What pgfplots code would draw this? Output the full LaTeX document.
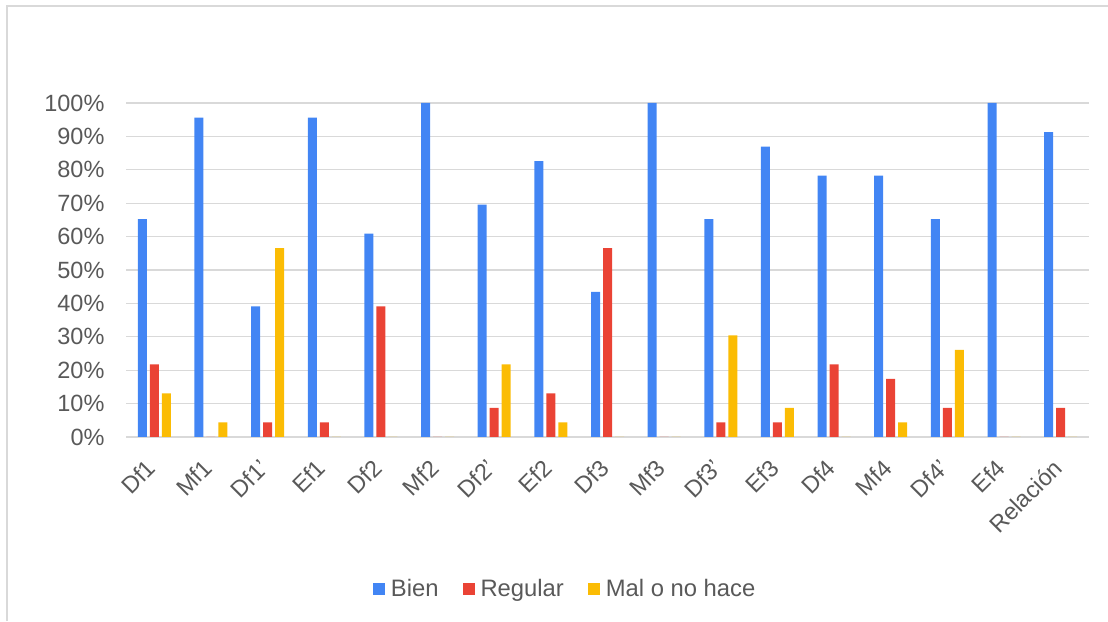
\documentclass[border=0pt]{standalone}
\usepackage{fontspec}
\setmainfont{Liberation Sans}
\usepackage{pgfplots}
\pgfplotsset{compat=1.18}
\usepackage{pgfplotstable}

\definecolor{cblue}{HTML}{4285F4}
\definecolor{cred}{HTML}{EA4335}
\definecolor{cyellow}{HTML}{FBBC04}
\definecolor{ctext}{HTML}{595959}
\definecolor{cgrid}{HTML}{D9D9D9}

% Shares (in %) per item: good, fair, poor / not done
\pgfplotstableread{
x  bien   regular  mal
0  65.22  21.74    13.04
1  95.65   0.00     4.35
2  39.13   4.35    56.52
3  95.65   4.35     0.00
4  60.87  39.13     0.00
5 100.00   0.00     0.00
6  69.57   8.70    21.74
7  82.61  13.04     4.35
8  43.48  56.52     0.00
9 100.00   0.00     0.00
10 65.22   4.35    30.43
11 86.96   4.35     8.70
12 78.26  21.74     0.00
13 78.26  17.39     4.35
14 65.22   8.70    26.09
15 100.00  0.00     0.00
16 91.30   8.70     0.00
}\scores

\begin{document}
\begin{tikzpicture}
% page area and outer frame
\path[use as bounding box] (0pt,0pt) rectangle (1108pt,621pt);
\draw[cgrid, line width=1.5pt] (7pt,0pt) -- (7pt,615pt) -- (1108pt,615pt);
\begin{axis}[
  at={(126pt,184pt)}, anchor=south west,
  scale only axis, width=963pt, height=334pt,
  ybar=3pt, bar width=9pt,
  xmin=-0.5, xmax=16.5, ymin=0, ymax=100,
  xtick=data,
  xticklabels={Df1,Mf1,Df1',Ef1,Df2,Mf2,Df2',Ef2,Df3,Mf3,Df3',Ef3,Df4,Mf4,Df4',Ef4,Relación},
  ytick={0,10,...,100},
  yticklabel={\pgfmathprintnumber{\tick}\%},
  /pgf/number format/assume math mode=true,
  major tick length=0pt,
  axis line style={draw=none},
  ymajorgrids, grid style={cgrid, line width=1.2pt},
  tick label style={font=\fontsize{23.5}{27}\selectfont, text=ctext},
  xticklabel style={rotate=45, anchor=north east, inner sep=2pt, xshift=-19pt, yshift=-6pt},
  yticklabel style={xshift=-18pt},
  legend style={at={(0.456,-0.455)}, anchor=center, draw=none, fill=none,
    font=\fontsize{23.8}{27}\selectfont, text=ctext,
    legend columns=3,
    /tikz/every odd column/.append style={column sep=4pt},
    /tikz/every even column/.append style={column sep=22pt}},
  legend image code/.code={\path[#1, draw=none] (0pt,-6pt) rectangle (12pt,6pt);},
]
\addplot[fill=cblue, draw=none] table[x=x, y=bien] {\scores};
\addplot[fill=cred, draw=none] table[x=x, y=regular] {\scores};
\addplot[fill=cyellow, draw=none] table[x=x, y=mal] {\scores};
\legend{Bien, Regular, Mal o no hace}
\end{axis}
\end{tikzpicture}
\end{document}
